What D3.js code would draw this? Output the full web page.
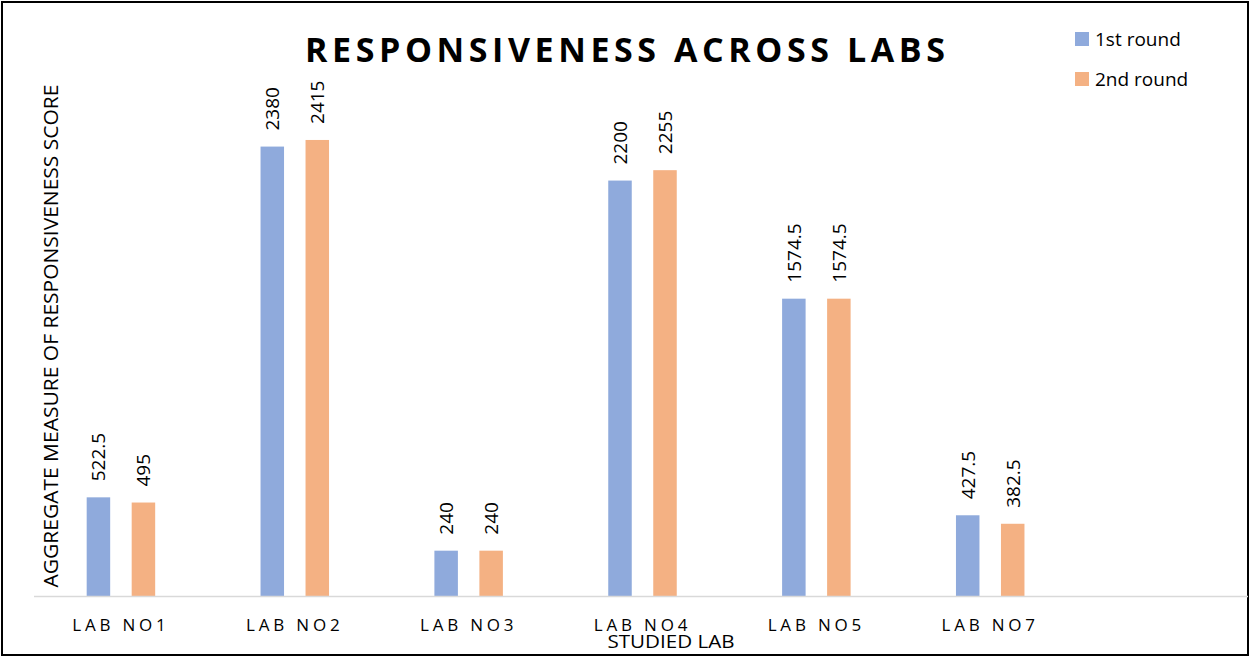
<!DOCTYPE html>
<html>
<head>
<meta charset="utf-8">
<script src="https://cdn.jsdelivr.net/npm/d3@7"></script>
<style>
  body { margin: 0; background: #fff; }
  text { font-family: "Open Sans", sans-serif; fill: #000; }
</style>
</head>
<body>
<div id="chart-area"></div>
<script>
// data
const labs = ['LAB NO1', 'LAB NO2', 'LAB NO3', 'LAB NO4', 'LAB NO5', 'LAB NO7', '']
const round1 = [522.5, 2380, 240, 2200, 1574.5, 427.5]
const round2 = [495, 2415, 240, 2255, 1574.5, 382.5]
const seriesNames = ['1st round', '2nd round']
const colors = ['#8faadc', '#f4b183']

const W = 1251, H = 657

let svg = d3.select('#chart-area')
  .append('svg')
  .attr('width', W)
  .attr('height', H)

// frame
svg.append('rect')
  .attr('x', 2).attr('y', 2)
  .attr('width', W - 5).attr('height', H - 4)
  .attr('fill', 'none')
  .attr('stroke', '#000')
  .attr('stroke-width', 2)

let x = d3.scaleBand()
  .domain(labs)
  .range([34, 1251])

let y = d3.scaleLinear()
  .domain([0, 3000])
  .range([596, 29.5])

const barW = 23.5
const offsets = [-22.5, 22.5]

let g = svg.append('g')

// bars
const series = [round1, round2]
series.forEach((vals, s) => {
  g.selectAll('.bar' + s)
    .data(vals)
    .enter()
    .append('rect')
    .attr('class', 'bar' + s)
    .attr('x', (d, i) => x(labs[i]) + x.bandwidth() / 2 + offsets[s] - barW / 2)
    .attr('y', d => y(d))
    .attr('width', barW)
    .attr('height', d => y(0) - y(d))
    .attr('fill', colors[s])

  // value labels, rotated
  g.selectAll('.lbl' + s)
    .data(vals)
    .enter()
    .append('text')
    .attr('class', 'lbl' + s)
    .attr('transform', (d, i) => {
      let cx = x(labs[i]) + x.bandwidth() / 2 + offsets[s] + 7
      return 'translate(' + cx + ',' + (y(d) - 16) + ') rotate(-90)'
    })
    .attr('font-size', '19px')
    .text(d => d)
})

// x axis line
g.append('line')
  .attr('x1', 34).attr('x2', 1248)
  .attr('y1', y(0) + 0.5).attr('y2', y(0) + 0.5)
  .attr('stroke', '#d9d9d9')
  .attr('stroke-width', 1.5)

// category labels
g.selectAll('.cat')
  .data(labs.slice(0, 6))
  .enter()
  .append('text')
  .attr('class', 'cat')
  .attr('x', d => x(d) + x.bandwidth() / 2)
  .attr('y', 631)
  .attr('text-anchor', 'middle')
  .attr('font-size', '17px')
  .style('letter-spacing', '3.8px')
  .text(d => d)

// x axis title
svg.append('text')
  .attr('x', 671)
  .attr('y', 648)
  .attr('text-anchor', 'middle')
  .attr('font-size', '19px')
  .attr('textLength', 127)
  .attr('lengthAdjust', 'spacingAndGlyphs')
  .text('STUDIED LAB')

// y axis title
svg.append('text')
  .attr('transform', 'translate(58,336) rotate(-90)')
  .attr('text-anchor', 'middle')
  .attr('font-size', '20px')
  .attr('textLength', 503)
  .attr('lengthAdjust', 'spacingAndGlyphs')
  .text('AGGREGATE MEASURE OF RESPONSIVENESS SCORE')

// title
svg.append('text')
  .attr('x', 625)
  .attr('y', 62)
  .attr('text-anchor', 'middle')
  .attr('font-size', '34px')
  .attr('font-weight', 'bold')
  .attr('textLength', 640)
  .attr('lengthAdjust', 'spacing')
  .text('RESPONSIVENESS ACROSS LABS')

// legend
let legend = svg.append('g')
  .attr('transform', 'translate(1075, 32)')

seriesNames.forEach((name, i) => {
  let row = legend.append('g')
    .attr('transform', 'translate(0, ' + i * 40 + ')')
  row.append('rect')
    .attr('width', 14)
    .attr('height', 14)
    .attr('fill', colors[i])
  row.append('text')
    .attr('x', 20)
    .attr('y', 14)
    .attr('font-size', '19px')
    .text(name)
})
</script>
</body>
</html>
